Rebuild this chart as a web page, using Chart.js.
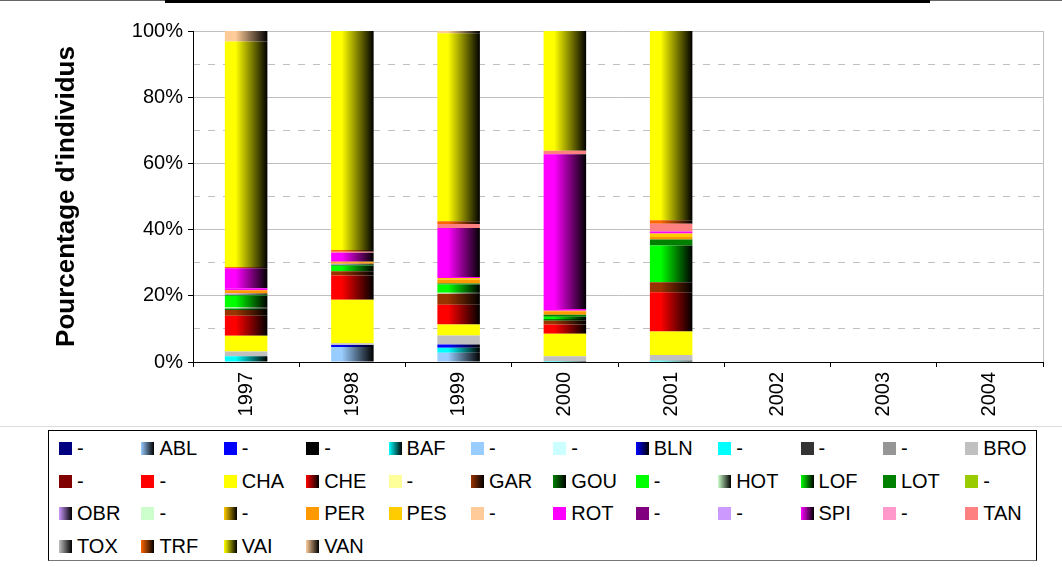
<!DOCTYPE html>
<html>
<head>
<meta charset="utf-8">
<script src="https://cdn.jsdelivr.net/npm/chart.js@4.4.1/dist/chart.umd.min.js"></script>
<style>
  body { margin: 0; background: #fff; font-family: "Liberation Sans", Arial, sans-serif; }
  #wrap { position: relative; width: 1062px; height: 567px; overflow: hidden; }
  #chartBox { position: absolute; left: 0; top: 0; width: 1062px; height: 426px; }
  .topline { position: absolute; top: 0; }
  #sep { position: absolute; left: 0; top: 426px; width: 1062px; height: 1px; background: #dcdcdc; }
  #legend {
    position: absolute; left: 48px; top: 430px; width: 989px; height: 131px;
    border: 1px solid #000; border-bottom-color: #777; box-sizing: border-box;
    display: grid; grid-template-columns: repeat(12, 82.4px); grid-auto-rows: 32.7px;
    padding: 1px 0 0 10px;
  }
  .item { display: flex; align-items: center; font-size: 20px; color: #000; white-space: nowrap; }
  .sw { width: 13px; height: 13px; margin-right: 5px; flex: none; }
</style>
</head>
<body>
<div id="wrap">
  <div class="topline" style="left:0;width:165px;height:1px;background:#666"></div>
  <div class="topline" style="left:165px;width:765px;height:3px;background:#000"></div>
  <div class="topline" style="left:930px;width:132px;height:1px;background:#666"></div>
  <div id="chartBox"><canvas id="chart"></canvas></div>
  <div id="sep"></div>
  <div id="legend"></div>
</div>
<script>
const years = ['1997', '1998', '1999', '2000', '2001', '2002', '2003', '2004'];

const seriesNames = [
    '-', 'ABL', '-', '-', 'BAF', '-', '-', 'BLN', '-', '-', '-', 'BRO',
    '-', '-', 'CHA', 'CHE', '-', 'GAR', 'GOU', '-', 'HOT', 'LOF', 'LOT', '-',
    'OBR', '-', '-', 'PER', 'PES', '-', 'ROT', '-', '-', 'SPI', '-', 'TAN',
    'TOX', 'TRF', 'VAI', 'VAN'
];

// percentages per year, same order as seriesNames (bottom of the stack first)
const pct1997 = [0, 0, 0, 0, 1.7, 0, 0, 0, 0, 0, 0, 1.5,
    0, 0, 4.7, 6.1, 0, 1.7, 0.5, 0, 0.3, 3.5, 0.3, 0,
    0.4, 0, 0, 1.0, 0, 0, 0.6, 0, 0, 6.0, 0, 0,
    0, 0.4, 68.1, 3.2];
const pct1998 = [0, 4.5, 0, 0, 0, 0, 0, 0.6, 0, 0, 0, 0.6,
    0, 0, 13.1, 7.3, 0, 1.3, 0, 0, 0, 1.7, 0.3, 0,
    0.3, 0, 0, 0.4, 0.2, 0, 0, 0, 0, 2.7, 0, 0.3,
    0, 0.5, 66.2, 0];
const pct1999 = [0, 2.8, 0, 0, 1.5, 0, 0, 1.0, 0, 0, 0, 2.7,
    0, 0, 3.3, 6.0, 0, 3.3, 0, 0, 0.3, 2.5, 0.3, 0,
    0, 0, 0, 1.2, 0.5, 0, 0.3, 0, 0, 14.8, 0, 1.2,
    0, 0.8, 56.8, 0.7];
const pct2000 = [0, 0, 0, 0, 0.3, 0, 0, 0, 0, 0, 0, 1.4,
    0, 0, 6.8, 2.8, 0, 1.2, 0.5, 0, 0, 0.7, 0.6, 0,
    0, 0, 0, 1.0, 0.2, 0, 0.5, 0, 0, 46.8, 0, 1.0,
    0, 0, 36.2, 0];
const pct2001 = [0, 0, 0, 0, 0.4, 0, 0, 0, 0, 0, 0, 1.7,
    0, 0, 7.1, 11.9, 0, 3.0, 0, 0, 0, 11.1, 1.8, 0,
    0, 0, 0, 0.8, 1.0, 0, 0.6, 0, 0, 0, 0, 2.4,
    0, 1.0, 57.2, 0];
const pctByYear = [pct1997, pct1998, pct1999, pct2000, pct2001, null, null, null];

const yTicks = [0, 20, 40, 60, 80, 100];
const yDashTicks = [10, 30, 50, 70, 90];

const seriesColors = [
    '#000080', '#99ccff', '#0000ff', '#000000', '#00ffff', '#99ccff', '#ccffff', '#0000ff', '#00ffff', '#333333', '#969696', '#c0c0c0',
    '#800000', '#ff0000', '#ffff00', '#ff0000', '#ffff99', '#993300', '#008000', '#00ff00', '#ccffcc', '#00ff00', '#008000', '#99cc00',
    '#cc99ff', '#ccffcc', '#ffcc00', '#ff9900', '#ffcc00', '#ffcc99', '#ff00ff', '#800080', '#cc99ff', '#ff00ff', '#ff99cc', '#ff8080',
    '#c0c0c0', '#ff6600', '#ffff00', '#ffcc99'
];
// series drawn with a colour-to-black shading
const shaded = [
    false, true, false, false, true, false, false, true, false, false, false, false,
    false, false, false, true, false, true, true, false, true, true, false, false,
    true, false, true, false, false, false, false, false, false, true, false, false,
    true, true, true, true
];

const FONT = '"Liberation Sans", Arial, sans-serif';

function barFill(i) {
    return function(context) {
        const base = seriesColors[i];
        const chart = context.chart;
        if (!shaded[i] || !chart.chartArea || context.type !== 'data') {
            return base;
        }
        const xScale = chart.scales.x;
        const cx = xScale.getPixelForValue(context.dataIndex);
        const half = xScale.width / years.length * 0.4 / 2;
        const g = chart.ctx.createLinearGradient(cx - half, 0, cx + half, 0);
        g.addColorStop(0, base);
        g.addColorStop(0.25, base);
        g.addColorStop(1, '#000');
        return g;
    };
}

const datasets = seriesNames.map(function(name, i) {
    return {
        label: name,
        data: pctByYear.map(function(arr) { return arr ? arr[i] : null; }),
        backgroundColor: barFill(i),
        borderWidth: 0,
        barPercentage: 0.4,
        categoryPercentage: 1.0
    };
});

const ctx = document.getElementById('chart').getContext('2d');
const chart = new Chart(ctx, {
    type: 'bar',
    data: {
        labels: years,
        datasets: datasets
    },
    options: {
        responsive: true,
        maintainAspectRatio: false,
        animation: false,
        layout: {
            padding: { top: 31, right: 19, bottom: 0, left: 0 }
        },
        scales: {
            x: {
                stacked: true,
                grid: {
                    display: true,
                    drawOnChartArea: false,
                    offset: true,
                    tickLength: 5,
                    tickColor: '#000'
                },
                border: { color: '#000', width: 1, z: 1 },
                ticks: {
                    color: '#000',
                    font: { family: FONT, size: 20 },
                    minRotation: 90,
                    maxRotation: 90,
                    padding: 5
                },
                afterFit: function(scale) { scale.height = 64; }
            },
            y: {
                stacked: true,
                min: 0,
                max: 100,
                afterBuildTicks: function(axis) {
                    axis.ticks = yTicks.map(function(v) { return { value: v }; });
                },
                grid: {
                    color: function(c) { return c.tick && c.tick.value === 0 ? 'rgba(0,0,0,0)' : '#c0c0c0'; },
                    tickColor: '#000',
                    tickLength: 5
                },
                border: { color: '#000', width: 1 },
                ticks: {
                    color: '#000',
                    font: { family: FONT, size: 20 },
                    padding: 5,
                    callback: function(value) { return value + '%'; }
                },
                title: {
                    display: true,
                    text: "Pourcentage d'individus",
                    color: '#000',
                    font: { family: FONT, size: 26, weight: 'bold' },
                    padding: { top: 51, bottom: 0 }
                },
                afterFit: function(scale) { scale.width = 193; }
            },
            y2: {
                position: 'right',
                min: 0,
                max: 100,
                afterBuildTicks: function(axis) {
                    axis.ticks = yDashTicks.map(function(v) { return { value: v }; });
                },
                grid: { color: '#c0c0c0', drawTicks: false },
                border: { display: true, color: '#c0c0c0', width: 1, dash: [7, 8] },
                ticks: { display: false },
                afterFit: function(scale) { scale.width = 0; }
            }
        },
        plugins: {
            legend: { display: false },
            tooltip: { enabled: false }
        }
    }
});

// legend laid out as a fixed grid like the original
const legendEl = document.getElementById('legend');
seriesNames.forEach(function(name, i) {
    const item = document.createElement('div');
    item.className = 'item';
    const sw = document.createElement('span');
    sw.className = 'sw';
    sw.style.background = shaded[i]
        ? 'linear-gradient(to right, ' + seriesColors[i] + ', #000)'
        : seriesColors[i];
    const txt = document.createElement('span');
    txt.textContent = name;
    item.appendChild(sw);
    item.appendChild(txt);
    legendEl.appendChild(item);
});
</script>
</body>
</html>
